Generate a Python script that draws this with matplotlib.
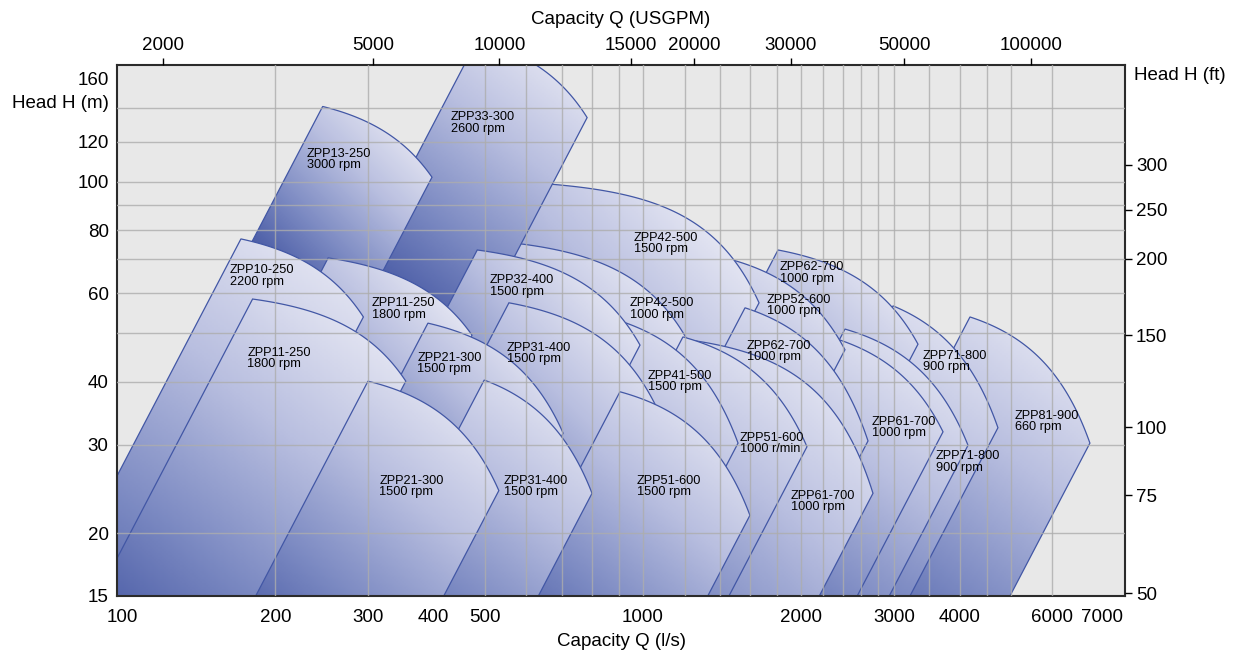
import numpy as np
import matplotlib
matplotlib.use('Agg')
import matplotlib.pyplot as plt
from matplotlib.patches import Polygon
from matplotlib.colors import LinearSegmentedColormap
from matplotlib.ticker import NullFormatter, NullLocator
from matplotlib.transforms import ScaledTranslation

plt.rcParams['font.family'] = ['Liberation Sans', 'DejaVu Sans']

# pump ranges, listed bottom layer first
names = ['ZPP81-900', 'ZPP71-800', 'ZPP62-700', 'ZPP71-800', 'ZPP61-700', 'ZPP52-600',
         'ZPP42-500', 'ZPP62-700', 'ZPP61-700', 'ZPP42-500', 'ZPP51-600', 'ZPP41-500',
         'ZPP33-300', 'ZPP13-250', 'ZPP32-400', 'ZPP11-250', 'ZPP10-250', 'ZPP31-400',
         'ZPP21-300', 'ZPP11-250', 'ZPP51-600', 'ZPP31-400', 'ZPP21-300']
speeds = ['660 rpm', '900 rpm', '1000 rpm', '900 rpm', '1000 rpm', '1000 rpm',
          '1500 rpm', '1000 rpm', '1000 rpm', '1000 rpm', '1000 r/min', '1500 rpm',
          '2600 rpm', '3000 rpm', '1500 rpm', '1800 rpm', '2200 rpm', '1500 rpm',
          '1500 rpm', '1800 rpm', '1500 rpm', '1500 rpm', '1500 rpm']
# upper-left corner of each range (l/s, m)
top_q = [4185, 2988, 1806, 2421, 2369, 1432, 660, 1563, 1229, 584, 1191, 854,
         484, 246, 484, 252, 172, 556, 390, 181, 904, 499, 300]
top_h = [53.8, 56.6, 73.1, 50.9, 48.4, 70.5, 98.9, 56.1, 48.4, 75.2, 49.1, 53.8,
         191, 141, 73.1, 70.5, 76.9, 57.4, 52.3, 58.4, 38.2, 40.3, 40.1]
# right-most point of each range
end_q = [7075, 4730, 3333, 4149, 3719, 2421, 1662, 2678, 2737, 1229, 2050, 1516,
         783, 397, 987, 473, 294, 1058, 705, 354, 1597, 800, 532]
end_h = [30.2, 32.4, 47.5, 29.9, 31.8, 46.3, 57.4, 30.5, 24.0, 47.3, 29.7, 30.2,
         134, 102, 47.3, 49.5, 53.8, 35.8, 31.6, 40.1, 21.7, 24.0, 24.3]
# head where the shading is darkest
dark_h = [14, 14, 30, 14, 14, 25, 35, 16, 13, 30, 14, 18,
          68, 75, 35, 35, 14, 25, 25, 14, 13, 13, 13]
# label anchors
lab_q = [5096, 3407, 1822, 3606, 2725, 1721, 961, 1577, 1911, 945, 1529, 1022,
         431.5, 229.7, 512, 305, 164, 551, 372, 177, 974, 544, 315]
lab_h = [33.4, 43.8, 65.8, 27.7, 32.5, 56.6, 75.2, 46.0, 23.1, 55.8, 30.1, 40.1,
         130.7, 110.4, 62.0, 55.8, 64.9, 45.6, 43.4, 44.4, 24.8, 24.8, 24.8]

q_ticks = [100, 200, 300, 400, 500, 1000, 2000, 3000, 4000, 6000, 7000]
h_ticks = [15, 20, 30, 40, 60, 80, 100, 120, 160]
q_grid = [200, 300, 500, 600, 700, 800, 900, 1000, 1200, 1400, 1600, 1800, 2000,
          2200, 2400, 2600, 2800, 3000, 3500, 4000, 4500, 5000, 6000]
h_grid = [20, 30, 40, 50, 60, 70, 80, 90, 100, 120, 140]
gpm_labels = ['2000', '5000', '10000', '15000', '20000', '30000', '50000', '100000']
gpm_at = [122.1, 307.2, 533.1, 947.6, 1250, 1909, 3139, 5466]
ft_labels = ['50', '75', '100', '150', '200', '250', '300']
ft_at = [15.2, 23.8, 32.5, 49.5, 70.2, 87.8, 107.9]

slope = 2.0
curve_n = 3.0


def outline(q1, h1, q2, h2, hbot=10.0):
    b = (h1 - h2) / (q2 ** curve_n - q1 ** curve_n)
    a = h1 + b * q1 ** curve_n
    qa = np.geomspace(q1, q2, 80)
    ha = a - b * qa ** curve_n
    ql = q1 * (hbot / h1) ** (1 / slope)
    qr = q2 * (hbot / h2) ** (1 / slope)
    return np.concatenate([[ql], qa, [qr]]), np.concatenate([[hbot], ha, [hbot]])


fig = plt.figure(figsize=(12.36, 6.55), dpi=100)
ax = fig.add_axes([0.0947, 0.0901, 0.8155, 0.8107])
ax.set_xscale('log')
ax.set_yscale('log')
ax.set_xlim(100, 8250)
ax.set_ylim(15, 170.5)
ax.set_autoscale_on(False)
ax.set_facecolor('#e8e8e8')

cmap = LinearSegmentedColormap.from_list(
    'pump', [(0, '#4a5ca6'), (0.3, '#7d8bc3'), (0.65, '#b9bfe0'), (1, '#e6e7f3')])
to_axes = ax.transData + ax.transAxes.inverted()
W, H = 1008.0, 531.0
gx = (np.arange(504) + 0.5) / 504
gy = (np.arange(266) + 0.5) / 266
GX, GY = np.meshgrid(gx, gy)

for i in range(len(names)):
    z = 1 + i * 0.05
    qs, hs = outline(top_q[i], top_h[i], end_q[i], end_h[i])
    p = Polygon(np.column_stack([qs, hs]), closed=True, facecolor='none',
                edgecolor='#4257a5', lw=0.9, zorder=z + 0.01)
    ax.add_patch(p)
    q_light = top_q[i] * (end_q[i] / top_q[i]) ** 0.6
    q_dark = top_q[i] * (dark_h[i] / top_h[i]) ** (1 / slope)
    lx, ly = to_axes.transform([(q_light, top_h[i])])[0]
    dx0, dy0 = to_axes.transform([(q_dark, dark_h[i])])[0]
    vx, vy = (lx - dx0) * W, (ly - dy0) * H
    t = ((GX - dx0) * W * vx + (GY - dy0) * H * vy) / (vx * vx + vy * vy)
    img = cmap(np.clip(t, 0, 1), bytes=True)
    im = ax.imshow(img, extent=(0, 1, 0, 1), transform=ax.transAxes, origin='lower',
                   aspect='auto', interpolation='bilinear', zorder=z)
    im.set_clip_path(p)
    ax.text(lab_q[i], lab_h[i], names[i] + '\n' + speeds[i], fontsize=9.2,
            linespacing=0.9, ha='left', va='center', zorder=4)

ax.set_axisbelow(False)
ax.xaxis.remove_overlapping_locs = False
ax.yaxis.remove_overlapping_locs = False
ax.set_xticks(q_grid, minor=True)
ax.set_yticks(h_grid, minor=True)
ax.xaxis.set_minor_formatter(NullFormatter())
ax.yaxis.set_minor_formatter(NullFormatter())
ax.grid(which='minor', color='#adadad', lw=1.0, alpha=0.8)
ax.grid(which='major', visible=False)
ax.set_xticks(q_ticks, labels=[str(v) for v in q_ticks])
ax.set_yticks(h_ticks, labels=[str(v) for v in h_ticks])
ax.tick_params(which='both', length=0, labelsize=13.5)
ax.tick_params(axis='x', pad=9.5)
ax.tick_params(axis='y', pad=6)
for lab in ax.get_xticklabels():
    if lab.get_text() == '100':
        lab.set_transform(lab.get_transform() + ScaledTranslation(0.05, 0, fig.dpi_scale_trans))
    if lab.get_text() == '7000':
        lab.set_transform(lab.get_transform() + ScaledTranslation(0.15, 0, fig.dpi_scale_trans))
ax.set_xlabel('Capacity Q (l/s)', fontsize=13.5, labelpad=5)
for s in ax.spines.values():
    s.set_color('#2b2b2b')
    s.set_linewidth(1.5)
ax.text(-0.008, 0.928, 'Head H (m)', transform=ax.transAxes, ha='right', va='center',
        fontsize=13.5)
ax.text(1.0085, 0.981, 'Head H (ft)', transform=ax.transAxes, ha='left', va='center',
        fontsize=13.5)

top = ax.twiny()
top.set_xscale('log')
top.set_xlim(ax.get_xlim())
top.set_xticks(gpm_at, labels=gpm_labels)
top.xaxis.set_minor_locator(NullLocator())
top.tick_params(axis='x', length=5, width=1, direction='out', labelsize=13.5, pad=3)
top.set_xlabel('Capacity Q (USGPM)', fontsize=13.5, labelpad=9)
right = ax.twinx()
right.set_yscale('log')
right.set_ylim(ax.get_ylim())
right.set_yticks(ft_at, labels=ft_labels)
right.yaxis.set_minor_locator(NullLocator())
right.tick_params(axis='y', length=5, width=1, direction='out', labelsize=13.5, pad=3)
for a in (top, right):
    for s in a.spines.values():
        s.set_visible(False)

ax.set_xlim(100, 8250)
ax.set_ylim(15, 170.5)
fig.savefig('out.png', dpi=100)
